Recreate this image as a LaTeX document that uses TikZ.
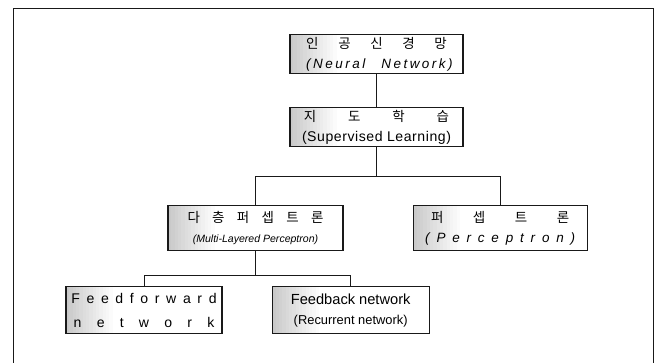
\documentclass[tikz,border=0pt]{standalone}
\usepackage{fontspec}
\setmainfont{Liberation Sans}
\newfontfamily\kr{Noto Sans CJK KR}
\usepackage{tikz}
\usetikzlibrary{positioning, calc}
\definecolor{boxline}{rgb}{0.1,0.1,0.1}
\tikzstyle{cat}=[%
      rectangle, draw=boxline, line width=1pt, fill=white,
      align=center, inner sep=2pt, minimum height=1.14cm, minimum width=5.19cm,
      font=\fontsize{11.5}{17}\selectfont,
      path picture={\foreach \i in {0,...,13}
        \fill[gray!\the\numexpr 42-3*\i\relax]
          ([xshift=\i*0.1cm]path picture bounding box.south west) rectangle
          ([xshift=\i*0.1cm+0.11cm]path picture bounding box.north west);}
]
\tikzstyle{link}=[draw=boxline, line width=0.8pt]

\begin{document}
\begin{tikzpicture}
    \useasboundingbox (0,0) rectangle (19.86,-10.89);
    \draw[link] (0.39,-10.89) -- (0.39,-0.24) -- (19.59,-0.24) -- (19.59,-10.89);

    \node[cat] (nn) at (11.295,-1.62)
      {{\kr\makebox[120pt][s]{인 공 신 경 망}}\\
       {\itshape\makebox[120pt][s]{( N e u r a l \quad N e t w o r k )}}};
    \node[cat, minimum height=1.17cm] (sl) [below=0.99cm of nn]
      {{\kr\makebox[124pt][s]{지 도 학 습}}\\
       {\addfontfeature{LetterSpace=4}\fontsize{12}{17}\selectfont(Supervised Learning)}};
    \node[cat, minimum width=5.25cm, minimum height=1.35cm] (mlp) [below=1.74cm of sl, xshift=-3.63cm]
      {{\kr\makebox[116pt][s]{다 층 퍼 셉 트 론}}\\
       {\fontsize{9}{10}\selectfont\itshape (Multi-Layered Perceptron)}};
    \node[cat, minimum width=5.22cm, minimum height=1.35cm] (perc) [right=2.07cm of mlp]
      {{\kr\makebox[118pt][s]{퍼 셉 트 론}}\\
       {\itshape\makebox[128pt][s]{( P e r c e p t r o n )}}};
    \node[cat, minimum width=4.68cm, minimum height=1.41cm, font=\fontsize{12}{20}\selectfont] (ff) [below=1.05cm of mlp, xshift=-3.345cm]
      {\makebox[124pt][s]{F e e d f o r w a r d}\\
       \makebox[120pt][s]{n e t w o r k}};
    \node[cat, minimum width=4.71cm, minimum height=1.41cm] (fb) [right=1.47cm of ff]
      {{\fontsize{12.5}{16}\selectfont Feedback network}\\
       {\fontsize{11}{14}\selectfont (Recurrent network)}};

    \coordinate (j1) at ($(sl.south)+(0,-0.87)$);
    \coordinate (j2) at ($(mlp.south)+(0,-0.72)$);

    \draw[link] (nn) -- (sl);
    \draw[link] (sl.south) -- (j1);
    \draw[link] (mlp.north) |- (j1) -| (perc.north);
    \draw[link] (mlp.south) -- (j2);
    \draw[link] (ff.north) |- (j2) -| (fb.north);
\end{tikzpicture}
\end{document}
